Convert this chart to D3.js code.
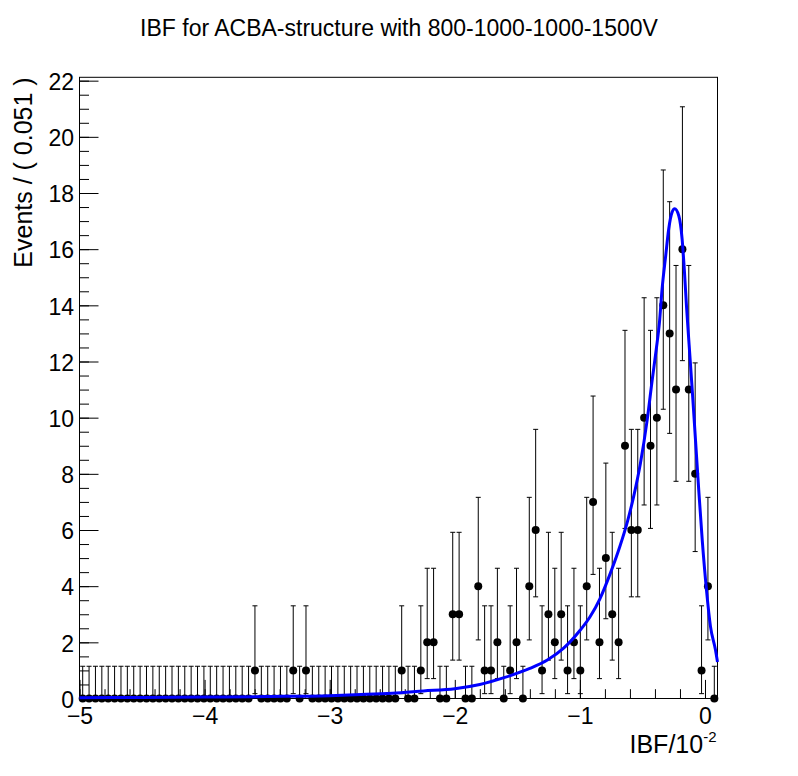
<!DOCTYPE html>
<html>
<head>
<meta charset="utf-8">
<script src="https://cdn.jsdelivr.net/npm/d3@7"></script>
<style>
  body { margin: 0; background: #fff; }
  svg { display: block; font-family: "Liberation Sans", Arial, Helvetica, sans-serif; }
</style>
</head>
<body>
<script>
// Histogram: 100 bins of width 0.051 starting at -5
const binStart = -5;
const binWidth = 0.051;
const counts = [
  0, 0, 0, 0, 0, 0, 0, 0, 0, 0,
  0, 0, 0, 0, 0, 0, 0, 0, 0, 0,
  0, 0, 0, 0, 0, 0, 0, 1, 0, 0,
  0, 0, 0, 1, 0, 1, 0, 0, 0, 0,
  0, 0, 0, 0, 0, 0, 0, 0, 0, 0,
  1, 0, 0, 1, 2, 2, 0, 0, 3, 3,
  0, 0, 4, 1, 1, 2, 0, 1, 2, 0,
  4, 6, 1, 3, 2, 3, 1, 2, 1, 4,
  7, 2, 5, 3, 2, 9, 6, 6, 10, 9,
  10, 14, 13, 11, 16, 11, 8, 1, 4, 0
];

// error bar ends for each count value (index = count)
const errLow  = [0, 0.173, 0.708, 1.367, 2.086, 2.840, 3.620, 4.419, 5.232, 6.057, 6.891, 7.734, 8.585, 9.441, 10.30, 11.17, 12.03];
const errHigh = [1.148, 3.300, 4.638, 5.918, 7.163, 8.382, 9.584, 10.77, 11.95, 13.11, 14.27, 15.42, 16.56, 17.69, 18.82, 19.95, 21.07];

// fitted curve
const fitX = [-5.0, -4.5, -4.0, -3.5, -3.0, -2.75, -2.5, -2.25, -2.0, -1.8, -1.6, -1.4, -1.26, -1.13, -1.0,
  -0.92, -0.84, -0.76, -0.68, -0.62, -0.57, -0.516, -0.462, -0.422, -0.39, -0.364, -0.343, -0.314, -0.29,
  -0.263, -0.242, -0.21, -0.183, -0.164, -0.148, -0.127, -0.102, -0.076, -0.05, -0.022, 0.012, 0.044, 0.084, 0.1];
const fitY = [0.03, 0.04, 0.05, 0.07, 0.10, 0.14, 0.19, 0.27, 0.35, 0.5, 0.75, 1.07, 1.37, 1.79, 2.42,
  2.9, 3.55, 4.42, 5.42, 6.3, 7.2, 8.38, 9.92, 11.34, 12.42, 13.39, 14.58, 15.77, 16.72,
  17.32, 17.44, 17.2, 16.37, 15.18, 13.98, 12.6, 10.99, 9.21, 7.43, 5.64, 3.86, 2.56, 1.73, 1.3];

const xMajor = [-5, -4, -3, -2, -1, 0];
const yMajor = [0, 2, 4, 6, 8, 10, 12, 14, 16, 18, 20, 22];
const xMinor = d3.range(-50, 1, 2).map(d => d / 10);
const yMinor = d3.range(0, 45).map(d => d / 2);

const W = 798, H = 776;
const frameL = 79.5, frameR = 717.5, frameT = 77.3, frameB = 698.5;

const svg = d3.select('body').append('svg')
  .attr('width', W)
  .attr('height', H);

const x = d3.scaleLinear().domain([-5, 0.1]).range([frameL, frameR]);
const y = d3.scaleLinear().domain([0, 22.12]).range([frameB, frameT]);

// title
svg.append('text')
  .attr('x', 399)
  .attr('y', 36)
  .attr('text-anchor', 'middle')
  .style('font-size', '23px')
  .text('IBF for ACBA-structure with 800-1000-1000-1500V');

// axes (ticks point inward like ROOT)
svg.append('g')
  .attr('transform', `translate(0,${frameB})`)
  .call(d3.axisBottom(x).tickValues(xMajor).tickSize(-18.6).tickPadding(9.5).tickFormat(d3.format('d')));
svg.append('g')
  .attr('transform', `translate(0,${frameB})`)
  .call(d3.axisBottom(x).tickValues(xMinor).tickSize(-9.3).tickFormat(''));

const yAxis = svg.append('g')
  .attr('transform', `translate(${frameL},0)`)
  .call(d3.axisLeft(y).tickValues(yMajor).tickSize(-19).tickPadding(5.5));
svg.append('g')
  .attr('transform', `translate(${frameL},0)`)
  .call(d3.axisLeft(y).tickValues(yMinor).tickSize(-9.5).tickFormat(''));

svg.selectAll('.domain').remove();
svg.selectAll('.tick line').attr('stroke', '#000').attr('stroke-width', 1);
svg.selectAll('.tick text')
  .attr('fill', '#000')
  .style('font-family', '"Liberation Sans", Arial, Helvetica, sans-serif')
  .style('font-size', '23px');
yAxis.selectAll('.tick text').attr('dy', '0.38em');

// frame
svg.append('rect')
  .attr('x', frameL)
  .attr('y', frameT)
  .attr('width', frameR - frameL)
  .attr('height', frameB - frameT)
  .attr('fill', 'none')
  .attr('stroke', '#000')
  .attr('stroke-width', 1);

// axis titles
const xt = svg.append('text')
  .attr('x', 716.5)
  .attr('y', 752.5)
  .attr('text-anchor', 'end')
  .style('font-size', '25px');
xt.append('tspan').text('IBF/10');
xt.append('tspan').style('font-size', '15px').attr('dy', -11).text('-2');

svg.append('text')
  .attr('transform', `translate(31.7,${frameT}) rotate(-90)`)
  .attr('text-anchor', 'end')
  .style('font-size', '25px')
  .text('Events / ( 0.051 )');

// data points with error bars
const bins = counts.map((c, i) => ({ xc: binStart + binWidth * (i + 0.5), n: c }));
const pts = svg.append('g');
bins.forEach(b => {
  const cx = x(b.xc);
  const y0 = y(errLow[b.n]), y1 = y(errHigh[b.n]);
  pts.append('line').attr('x1', cx).attr('x2', cx).attr('y1', y0).attr('y2', y1)
    .attr('stroke', '#000').attr('stroke-width', 1);
  [y0, y1].forEach(yy => {
    pts.append('line').attr('x1', cx - 2.5).attr('x2', cx + 2.5).attr('y1', yy).attr('y2', yy)
      .attr('stroke', '#000').attr('stroke-width', 1);
  });
});

// fit curve
const fitPts = fitX.map((d, i) => [d, fitY[i]]);
svg.append('path')
  .datum(fitPts)
  .attr('fill', 'none')
  .attr('stroke', '#0000ff')
  .attr('stroke-width', 3)
  .attr('d', d3.line().x(d => x(d[0])).y(d => y(d[1])).curve(d3.curveMonotoneX));

// markers on top
pts.selectAll('circle')
  .data(bins)
  .join('circle')
  .attr('cx', d => x(d.xc))
  .attr('cy', d => y(d.n))
  .attr('r', 4)
  .attr('fill', '#000');
</script>
</body>
</html>
